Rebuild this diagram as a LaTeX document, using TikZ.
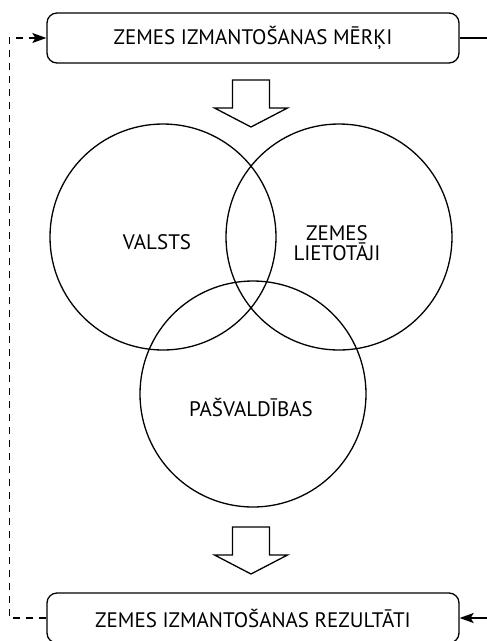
\documentclass[tikz,border=0pt]{standalone}
\usepackage{fontspec}
\setmainfont{PT Sans}
\usetikzlibrary{arrows.meta}
\begin{document}
\begin{tikzpicture} [x=1pt, y=-1pt, line width=1.3pt, %
  goal/.style={draw, rounded corners=10pt, minimum width=412pt, minimum height=50pt, %
    inner sep=0pt, font=\fontsize{21}{24}\selectfont}, %
  party/.style={circle, draw, minimum size=226pt, inner sep=0pt}, %
  tag/.style={font=\fontsize{21}{24}\selectfont, align=center}, %
  feed/.style={dash pattern=on 7pt off 6pt}, %
  tip/.style={-{Stealth[length=14pt, width=10pt, inset=3pt]}}] %
\useasboundingbox (0,0) rectangle (487,641); %
\node [goal] (aims) at (253,38) {ZEMES IZMANTOŠANAS MĒRĶI}; %
\node [goal] (results) at (253,618) {ZEMES IZMANTOŠANAS REZULTĀTI}; %
\node [party] (state) at (163,237) {}; %
\node [party] (users) at (339,237) {}; %
\node [party] (local) at (253,394) {}; %
\node [tag] (statetxt) at (157,242) {VALSTS}; %
\node [tag] (userstxt) at (337,243) {ZEMES\\[-4pt]LIETOTĀJI}; %
\node [tag] (localtxt) at (251,407) {PAŠVALDĪBAS}; %
% hollow arrows
\foreach \top in {80,527} %
  \draw (232.5,\top) -- ++(0,28) -- ++(-18,0) -- ++(36.5,19) -- ++(36.5,-19) %
    -- ++(-18,0) -- ++(0,-28) -- cycle; %
% loop
\coordinate (outtop) at (487,38); %
\coordinate (outbot) at (487,618); %
\draw (aims.east) -- (outtop); %
\draw [tip] (outbot) -- (results.east); %
\draw [feed, tip] (results.west) -- ++(-37,0) |- (aims.west); %
\end{tikzpicture}
\end{document}
